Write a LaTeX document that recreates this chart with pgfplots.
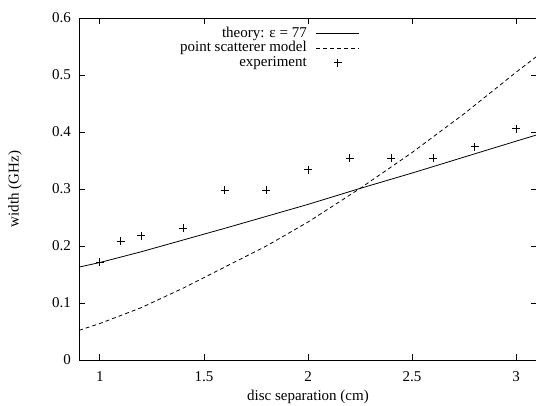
\documentclass[border=0pt]{standalone}
\usepackage{fontspec}
\setmainfont{Liberation Serif}
\usepackage{pgfplots}
\pgfplotsset{compat=1.18}
\pgfplotsset{
    longline/.style={legend image code/.code={\draw[##1] (0pt,0pt) -- (43pt,0pt);}},
    longmark/.style={legend image code/.code={\draw[mark repeat=2,mark phase=2,##1] plot coordinates {(0pt,0pt) (21.5pt,0pt) (43pt,0pt)};}},
}

\begin{document}
\fontsize{15}{18}\selectfont
\begin{tikzpicture}
% crop like the reference: the right frame sits just past the edge
\useasboundingbox (-79pt,-45pt) rectangle (457pt,360pt);
\begin{axis}[
    scale only axis,
    width=458pt,
    height=342pt,
    xmin=0.9, xmax=3.1,
    ymin=0, ymax=0.6,
    xtick={1,1.5,2,2.5,3},
    ytick={0,0.1,0.2,0.3,0.4,0.5,0.6},
    yticklabel style={/pgf/number format/fixed, /pgf/number format/precision=1},
    /pgf/number format/assume math mode=true,
    tick align=inside,
    major tick length=6pt,
    axis line style={line width=0.8pt},
    every tick/.style={line width=0.8pt, black},
    xticklabel style={yshift=-6.5pt},
    yticklabel style={xshift=-3pt},
    xlabel={disc separation (cm)},
    ylabel={width (GHz)},
    every axis x label/.style={at={(axis description cs:0.5,0)}, yshift=-37pt, anchor=center},
    every axis y label/.style={at={(axis description cs:0,0.5)}, xshift=-64pt, rotate=90, anchor=center},
    legend cell align=right,
    legend plot pos=right,
    legend style={draw=none, fill=none, at={(rel axis cs:0.613,0.975)}, anchor=north east,
        column sep=9pt, row sep=0.5pt, inner sep=0pt,
        nodes={inner sep=0pt, text height=10.5pt, text depth=3.5pt}},
]

% theory: epsilon = 77
\addplot[black, line width=0.8pt, longline]
    coordinates {(0.9,0.163) (1.0,0.171) (1.2,0.190) (1.4,0.2105) (1.6,0.231) (1.8,0.252)
                 (2.0,0.273) (2.25,0.301) (2.5,0.328) (2.75,0.356) (3.0,0.384) (3.1,0.395)};

% point scatterer model
\addplot[black, line width=0.8pt, dash pattern=on 4pt off 3pt, longline]
    coordinates {(0.9,0.052) (1.0,0.064) (1.2,0.092) (1.4,0.126) (1.6,0.163) (1.8,0.200)
                 (2.0,0.242) (2.25,0.301) (2.5,0.364) (2.75,0.432) (3.0,0.505) (3.1,0.533)};

% experiment
\addplot[black, only marks, mark=+, mark size=4pt, mark options={line width=0.8pt}, longmark]
    coordinates {(1.0,0.172) (1.1,0.208) (1.2,0.218) (1.4,0.231) (1.6,0.298) (1.8,0.298)
                 (2.0,0.334) (2.2,0.354) (2.4,0.354) (2.6,0.354) (2.8,0.374) (3.0,0.406)};

\legend{theory: ε = 77, point scatterer model, experiment}
\end{axis}
\end{tikzpicture}
\end{document}
